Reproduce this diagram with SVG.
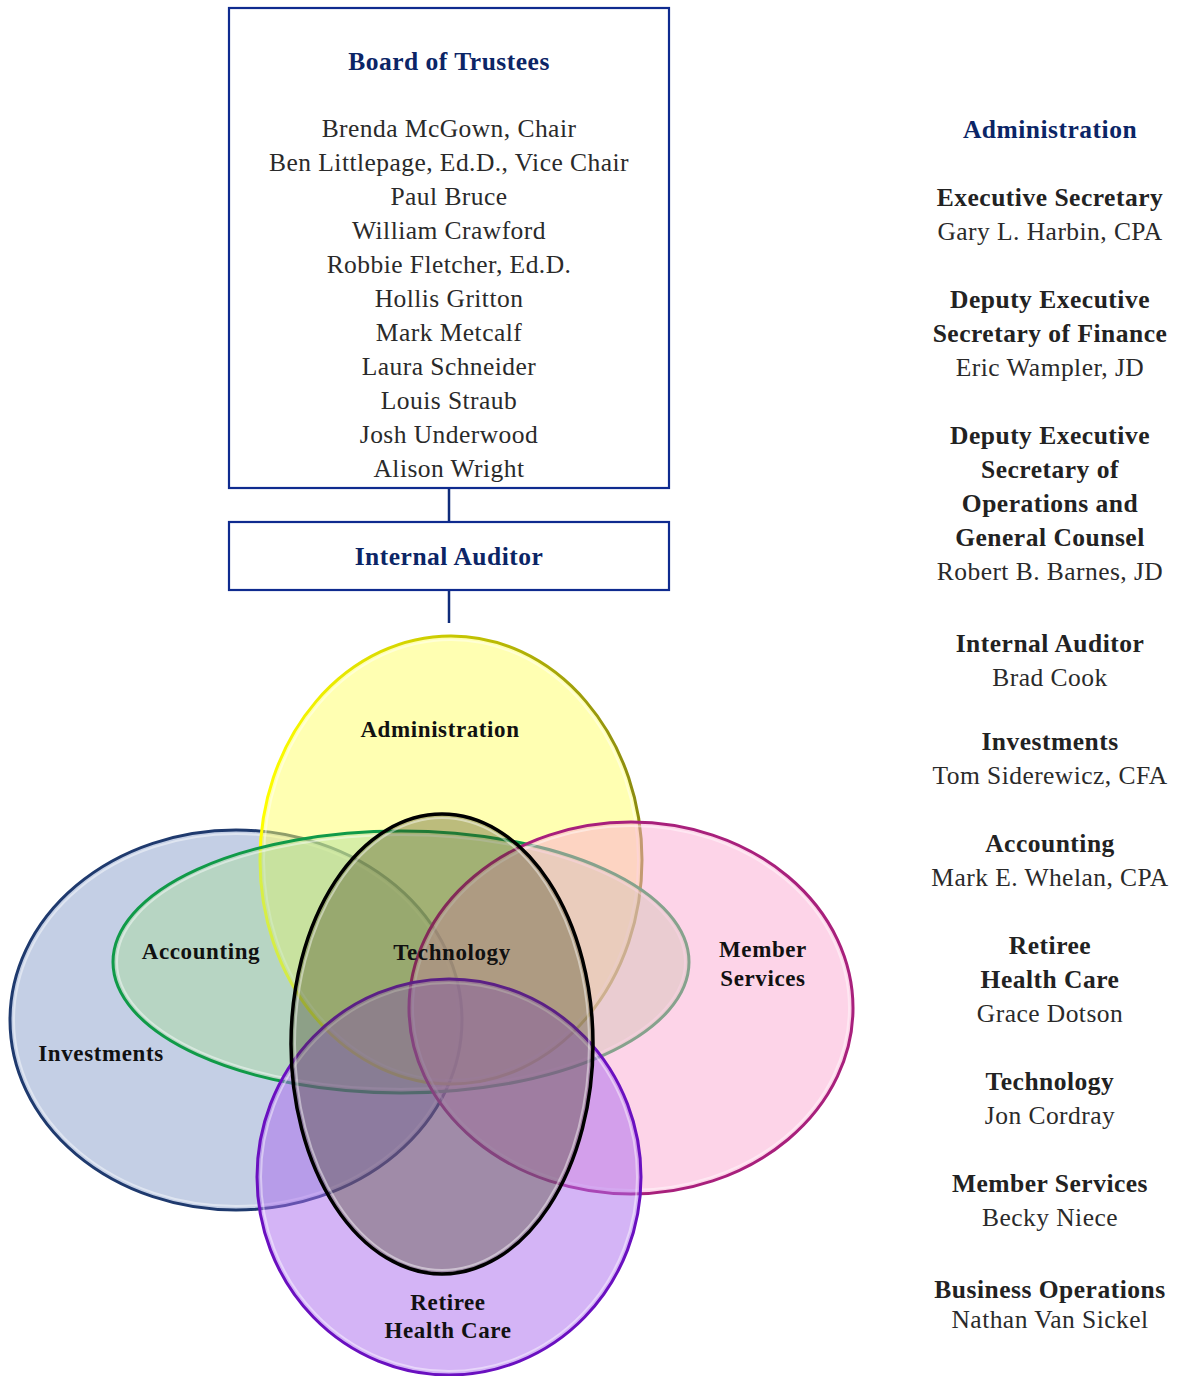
<svg xmlns="http://www.w3.org/2000/svg" width="1181" height="1376" viewBox="0 0 1181 1376">
<style>
.box{fill:#fff;stroke:#0f2b8f;stroke-width:2.2}
.conn{stroke:#0f2b7a;stroke-width:2.5;fill:none}
.hd{font-family:"Liberation Serif",serif;font-weight:bold;font-size:25.5px;fill:#0b2566;text-anchor:middle;letter-spacing:0.5px}
.nm{font-family:"Liberation Serif",serif;font-size:25.5px;fill:#2a2a2a;text-anchor:middle;letter-spacing:0.45px}
.tt{font-family:"Liberation Serif",serif;font-weight:bold;font-size:25.5px;fill:#222;text-anchor:middle;letter-spacing:0.5px}
.lb{font-family:"Liberation Serif",serif;font-weight:bold;font-size:23px;fill:#111;text-anchor:middle;letter-spacing:0.6px}
.hl{fill:none;stroke:#fff;stroke-opacity:0.45;stroke-width:2}
</style>
<defs>
<linearGradient id="ystroke" x1="0" y1="0" x2="1" y2="0">
<stop offset="0" stop-color="#ffff00"/>
<stop offset="0.5" stop-color="#c8c800"/>
<stop offset="1" stop-color="#8a8a10"/>
</linearGradient>
</defs>
<g id="connectors">
<line class="conn" x1="449" y1="488" x2="449" y2="522"/>
<line class="conn" x1="449" y1="590" x2="449" y2="623"/>
</g>
<g id="board">
<rect class="box" x="229" y="8" width="440" height="480"/>
<text class="hd" x="449" y="70">Board of Trustees</text>
<text class="nm" x="449" y="137">Brenda McGown, Chair</text>
<text class="nm" x="449" y="171">Ben Littlepage, Ed.D., Vice Chair</text>
<text class="nm" x="449" y="205">Paul Bruce</text>
<text class="nm" x="449" y="239">William Crawford</text>
<text class="nm" x="449" y="273">Robbie Fletcher, Ed.D.</text>
<text class="nm" x="449" y="307">Hollis Gritton</text>
<text class="nm" x="449" y="341">Mark Metcalf</text>
<text class="nm" x="449" y="375">Laura Schneider</text>
<text class="nm" x="449" y="409">Louis Straub</text>
<text class="nm" x="449" y="443">Josh Underwood</text>
<text class="nm" x="449" y="477">Alison Wright</text>
</g>
<g id="internal-auditor">
<rect class="box" x="229" y="522" width="440" height="68"/>
<text class="hd" x="449" y="565">Internal Auditor</text>
</g>
<g id="venn">
<g id="investments-ellipse">
<ellipse cx="236" cy="1020" rx="226" ry="190" fill="#8aa0cc" fill-opacity="0.5" stroke="#1f3a6e" stroke-width="3"/>
<ellipse class="hl" cx="236" cy="1020" rx="222" ry="186"/>
</g>
<g id="administration-ellipse">
<ellipse cx="451" cy="860" rx="191" ry="224" fill="#ffff66" fill-opacity="0.5" stroke="url(#ystroke)" stroke-width="3"/>
<ellipse class="hl" cx="451" cy="860" rx="187" ry="220"/>
</g>
<g id="accounting-ellipse">
<ellipse cx="401" cy="962" rx="288" ry="131" fill="#a8dc98" fill-opacity="0.45" stroke="#109a48" stroke-width="3"/>
<ellipse class="hl" cx="401" cy="962" rx="284" ry="127"/>
</g>
<g id="member-services-ellipse">
<ellipse cx="631" cy="1008" rx="222" ry="186" fill="#fbaad2" fill-opacity="0.5" stroke="#a8207c" stroke-width="3"/>
<ellipse class="hl" cx="631" cy="1008" rx="218" ry="182"/>
</g>
<g id="retiree-ellipse">
<ellipse cx="449" cy="1177" rx="192" ry="198" fill="#aa6aee" fill-opacity="0.5" stroke="#6a10c0" stroke-width="3"/>
<ellipse class="hl" cx="449" cy="1177" rx="188" ry="194"/>
</g>
<g id="technology-ellipse">
<ellipse cx="442" cy="1044" rx="151" ry="230" fill="#404018" fill-opacity="0.35" stroke="#000" stroke-width="3.5"/>
<ellipse class="hl" cx="442" cy="1044" rx="147" ry="226"/>
</g>
<text class="lb" x="440" y="737">Administration</text>
<text class="lb" x="201" y="959">Accounting</text>
<text class="lb" x="452" y="960">Technology</text>
<text class="lb" x="763" y="957">Member</text>
<text class="lb" x="763" y="986">Services</text>
<text class="lb" x="101" y="1061">Investments</text>
<text class="lb" x="448" y="1310">Retiree</text>
<text class="lb" x="448" y="1338">Health Care</text>
</g>
<g id="administration-list">
<text class="hd" x="1050" y="138">Administration</text>
<text class="tt" x="1050" y="206">Executive Secretary</text>
<text class="nm" x="1050" y="240">Gary L. Harbin, CPA</text>
<text class="tt" x="1050" y="308">Deputy Executive</text>
<text class="tt" x="1050" y="342">Secretary of Finance</text>
<text class="nm" x="1050" y="376">Eric Wampler, JD</text>
<text class="tt" x="1050" y="444">Deputy Executive</text>
<text class="tt" x="1050" y="478">Secretary of</text>
<text class="tt" x="1050" y="512">Operations and</text>
<text class="tt" x="1050" y="546">General Counsel</text>
<text class="nm" x="1050" y="580">Robert B. Barnes, JD</text>
<text class="tt" x="1050" y="652">Internal Auditor</text>
<text class="nm" x="1050" y="686">Brad Cook</text>
<text class="tt" x="1050" y="750">Investments</text>
<text class="nm" x="1050" y="784">Tom Siderewicz, CFA</text>
<text class="tt" x="1050" y="852">Accounting</text>
<text class="nm" x="1050" y="886">Mark E. Whelan, CPA</text>
<text class="tt" x="1050" y="954">Retiree</text>
<text class="tt" x="1050" y="988">Health Care</text>
<text class="nm" x="1050" y="1022">Grace Dotson</text>
<text class="tt" x="1050" y="1090">Technology</text>
<text class="nm" x="1050" y="1124">Jon Cordray</text>
<text class="tt" x="1050" y="1192">Member Services</text>
<text class="nm" x="1050" y="1226">Becky Niece</text>
<text class="tt" x="1050" y="1298">Business Operations</text>
<text class="nm" x="1050" y="1328">Nathan Van Sickel</text>
</g>
</svg>
